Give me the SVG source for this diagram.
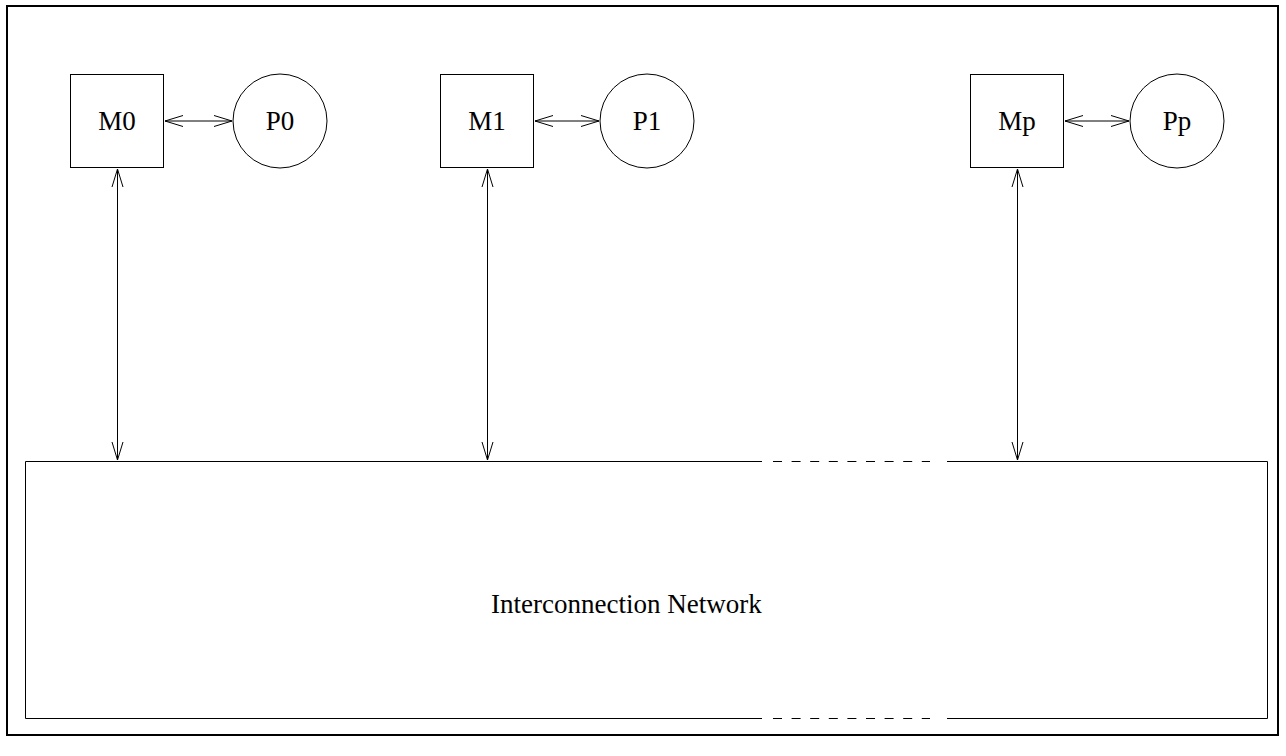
<svg xmlns="http://www.w3.org/2000/svg" width="1286" height="756" viewBox="0 0 1286 756">
<style>
.shape{fill:none;stroke:#000;stroke-width:1}
.lbl{font-family:"Liberation Serif","Times New Roman",serif;font-size:27px;fill:#000}
.conn{stroke:#000;stroke-width:1;fill:none}
</style>
<defs>
<marker id="ah" markerUnits="userSpaceOnUse" markerWidth="22" markerHeight="14" refX="18" refY="6" orient="auto-start-reverse" viewBox="0 0 22 12">
<path d="M0,0.5 L18,6 L0,11.5" fill="none" stroke="#000" stroke-width="1"/>
</marker>
</defs>
<rect width="1286" height="756" fill="#fff"/>
<rect id="frame" x="7" y="6" width="1271" height="729" fill="none" stroke="#000" stroke-width="2"/>
<g id="M0"><rect class="shape" x="70.5" y="74.5" width="93" height="93"/><text class="lbl" x="117" y="130" text-anchor="middle">M0</text></g>
<g id="P0"><circle class="shape" cx="280" cy="121" r="47"/><text class="lbl" x="280" y="130" text-anchor="middle">P0</text></g>
<g id="M1"><rect class="shape" x="440.5" y="74.5" width="93" height="93"/><text class="lbl" x="487" y="130" text-anchor="middle">M1</text></g>
<g id="P1"><circle class="shape" cx="647" cy="121" r="47"/><text class="lbl" x="647" y="130" text-anchor="middle">P1</text></g>
<g id="Mp"><rect class="shape" x="970.5" y="74.5" width="93" height="93"/><text class="lbl" x="1017" y="130" text-anchor="middle">Mp</text></g>
<g id="Pp"><circle class="shape" cx="1177" cy="121" r="47"/><text class="lbl" x="1177" y="130" text-anchor="middle">Pp</text></g>
<g id="network">
<path class="shape" d="M762,461.5 H25.5 V718.5 H762 M947,461.5 H1267.5 V718.5 H947"/>
<path class="shape" d="M773,461.5 H930 M773,718.5 H930" stroke-dasharray="9 9.6"/>
<text class="lbl" x="491" y="613">Interconnection Network</text>
</g>
<g id="connectors">
<line class="conn" x1="165" y1="121" x2="232" y2="121" marker-start="url(#ah)" marker-end="url(#ah)"/>
<line class="conn" x1="535" y1="121" x2="599" y2="121" marker-start="url(#ah)" marker-end="url(#ah)"/>
<line class="conn" x1="1065" y1="121" x2="1129" y2="121" marker-start="url(#ah)" marker-end="url(#ah)"/>
<line class="conn" x1="117.5" y1="169" x2="117.5" y2="460" marker-start="url(#ah)" marker-end="url(#ah)"/>
<line class="conn" x1="487.5" y1="169" x2="487.5" y2="460" marker-start="url(#ah)" marker-end="url(#ah)"/>
<line class="conn" x1="1017.5" y1="169" x2="1017.5" y2="460" marker-start="url(#ah)" marker-end="url(#ah)"/>
</g>
</svg>
